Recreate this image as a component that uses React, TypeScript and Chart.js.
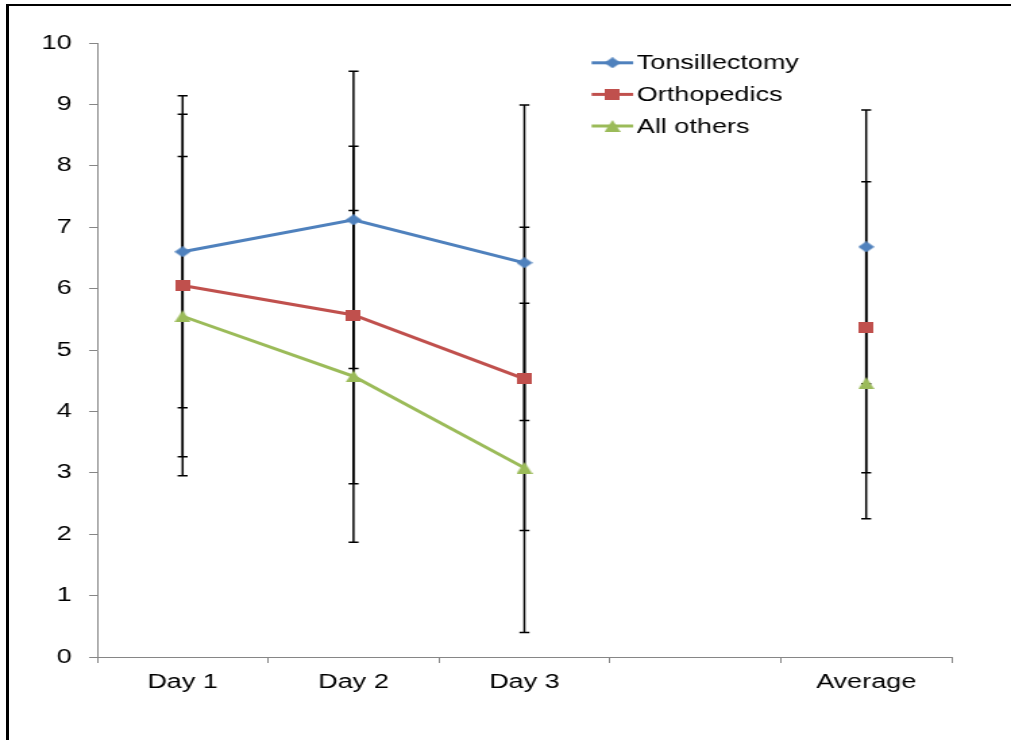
import React, { useEffect, useRef } from 'react';
import { Chart, registerables } from 'chart.js';

Chart.register(...registerables);

// ---- data ----
const categories = ['Day 1', 'Day 2', 'Day 3', '', 'Average'];
const seriesNames = ['Tonsillectomy', 'Orthopedics', 'All others'];
const tonsMeans = [6.6, 7.12, 6.42, null, 6.68];
const tonsSD = [2.54, 2.42, 2.57, null, 2.23];
const orthoMeans = [6.05, 5.57, 4.53, null, 5.37];
const orthoSD = [2.79, 2.75, 2.47, null, 2.37];
const othersMeans = [5.55, 4.57, 3.08, null, 4.46];
const othersSD = [2.6, 2.7, 2.68, null, 2.21];
const yMin = 0;
const yMax = 10;
const yStep = 1;

// ---- styling ----
const COLORS = ['#4F81BD', '#C0504D', '#9BBB59'];
const SHAPES = ['diamond', 'square', 'triangle'];
const FONT = "'Liberation Sans', Arial, sans-serif";
const STRETCH = 1011 / 749;
const CANVAS_W = 749;
const CANVAS_H = 740;

function makeMarker(shape: string, color: string): HTMLCanvasElement {
  const c = document.createElement('canvas');
  let w = 12;
  let h = 12;
  if (shape === 'diamond') { w = 12; h = 11; }
  if (shape === 'square') { w = 11; h = 11; }
  if (shape === 'triangle') { w = 12; h = 12; }
  c.width = w;
  c.height = h;
  const ctx = c.getContext('2d')!;
  ctx.fillStyle = color;
  ctx.beginPath();
  if (shape === 'diamond') {
    ctx.moveTo(w / 2, 0);
    ctx.lineTo(w, h / 2);
    ctx.lineTo(w / 2, h);
    ctx.lineTo(0, h / 2);
  } else if (shape === 'square') {
    ctx.rect(0, 0, w, h);
  } else {
    ctx.moveTo(w / 2, 0);
    ctx.lineTo(w, h);
    ctx.lineTo(0, h);
  }
  ctx.closePath();
  ctx.fill();
  return c;
}

const errorBarPlugin = {
  id: 'errorBars',
  beforeDatasetsDraw(chart: any) {
    const ctx = chart.ctx;
    const xs = chart.scales.x;
    const ys = chart.scales.y;
    ctx.save();
    ctx.strokeStyle = '#000';
    ctx.lineWidth = 1.5;
    chart.data.datasets.forEach((ds: any) => {
      ds.data.forEach((v: number | null, i: number) => {
        const sd = ds.errorBars[i];
        if (v == null || sd == null) return;
        const x = xs.getPixelForValue(i);
        const yTop = ys.getPixelForValue(v + sd);
        const yBot = ys.getPixelForValue(v - sd);
        const cap = 3.7;
        ctx.beginPath();
        ctx.moveTo(x, yTop);
        ctx.lineTo(x, yBot);
        ctx.moveTo(x - cap, yTop);
        ctx.lineTo(x + cap, yTop);
        ctx.moveTo(x - cap, yBot);
        ctx.lineTo(x + cap, yBot);
        ctx.stroke();
      });
    });
    ctx.restore();
  },
};

const legendPlugin = {
  id: 'customLegend',
  afterDraw(chart: any) {
    const ctx = chart.ctx;
    const lineX0 = 438.3;
    const lineX1 = 469.1;
    const textX = 471.8;
    const top = 62.8;
    const gap = 31.6;
    ctx.save();
    chart.data.datasets.forEach((ds: any, i: number) => {
      const y = top + i * gap;
      ctx.strokeStyle = ds.borderColor;
      ctx.lineWidth = 3;
      ctx.beginPath();
      ctx.moveTo(lineX0, y);
      ctx.lineTo(lineX1, y);
      ctx.stroke();
      const img = ds.pointStyle as HTMLCanvasElement;
      ctx.drawImage(img, (lineX0 + lineX1) / 2 - img.width / 2, y - img.height / 2);
      ctx.fillStyle = '#000';
      ctx.font = `20px ${FONT}`;
      ctx.textBaseline = 'middle';
      ctx.textAlign = 'left';
      ctx.fillText(ds.label, textX, y + 1);
    });
    ctx.restore();
  },
};

export default function App() {
  const ref = useRef<HTMLCanvasElement>(null);

  useEffect(() => {
    document.documentElement.style.overflow = 'hidden';
    document.body.style.margin = '0';
    document.body.style.overflow = 'hidden';
    if (!ref.current) return;
    const means = [tonsMeans, orthoMeans, othersMeans];
    const sds = [tonsSD, orthoSD, othersSD];
    const datasets = seriesNames.map((name, i) => {
      const marker = makeMarker(SHAPES[i], COLORS[i]);
      return {
        label: name,
        data: means[i],
        errorBars: sds[i],
        borderColor: COLORS[i],
        backgroundColor: COLORS[i],
        borderWidth: 3,
        pointStyle: marker,
        pointRadius: 6,
        pointHoverRadius: 6,
        tension: 0,
        spanGaps: false,
      };
    });

    const chart = new Chart(ref.current, {
      type: 'line',
      data: { labels: categories, datasets: datasets as any },
      options: {
        animation: false,
        responsive: true,
        maintainAspectRatio: false,
        layout: { padding: { top: 43, right: 44, bottom: 0, left: 0 } },
        plugins: {
          legend: { display: false },
          title: { display: false },
          tooltip: { enabled: false },
        },
        scales: {
          x: {
            type: 'category',
            offset: true,
            grid: {
              offset: true,
              drawOnChartArea: false,
              drawTicks: true,
              tickLength: 6,
              color: '#868686',
            },
            border: { display: true, color: '#868686', width: 1 },
            ticks: {
              color: '#000',
              font: { family: FONT, size: 20 },
              padding: 7,
              maxRotation: 0,
              autoSkip: false,
            },
            afterFit(scale: any) {
              scale.height = 83;
            },
          },
          y: {
            min: yMin,
            max: yMax,
            grid: {
              drawOnChartArea: false,
              drawTicks: true,
              tickLength: 6,
              color: '#868686',
            },
            border: { display: true, color: '#868686', width: 1 },
            ticks: {
              stepSize: yStep,
              color: '#000',
              font: { family: FONT, size: 20 },
              padding: 13,
            },
            afterFit(scale: any) {
              scale.width = 72;
            },
          },
        },
      },
      plugins: [errorBarPlugin, legendPlugin],
    });
    return () => chart.destroy();
  }, []);

  return (
    <div
      style={{
        position: 'fixed',
        left: 0,
        top: 0,
        width: 1011,
        height: 740,
        overflow: 'hidden',
        background: '#fff',
      }}
    >
      <div
        style={{
          position: 'absolute',
          left: 0,
          top: 0,
          width: CANVAS_W,
          height: CANVAS_H,
          transform: `scaleX(${STRETCH})`,
          transformOrigin: '0 0',
        }}
      >
        <canvas ref={ref} />
      </div>
      <div
        style={{
          position: 'absolute',
          left: 990,
          top: 6,
          width: 21,
          height: 734,
          background: '#fff',
          zIndex: 5,
        }}
      />
      <div
        style={{
          position: 'absolute',
          left: 6,
          top: 4,
          width: 1005,
          height: 2,
          background: '#000',
          zIndex: 6,
        }}
      />
      <div
        style={{
          position: 'absolute',
          left: 6,
          top: 4,
          width: 3,
          height: 736,
          background: '#000',
          zIndex: 6,
        }}
      />
    </div>
  );
}
